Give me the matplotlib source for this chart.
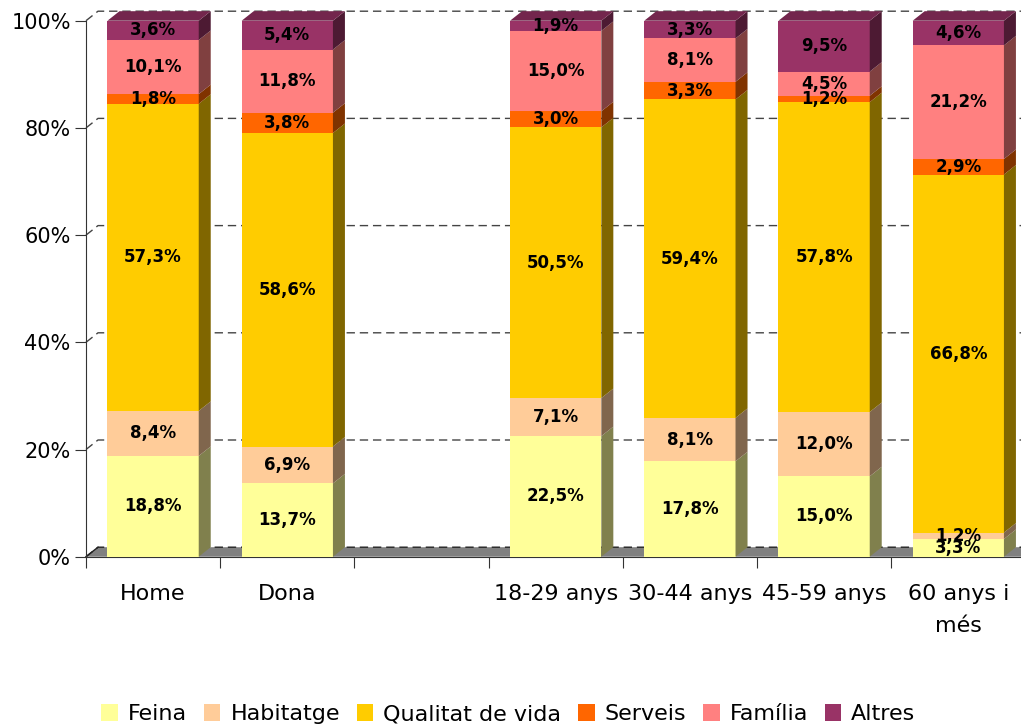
import numpy as np
import matplotlib.pyplot as plt
from matplotlib.patches import Polygon, Rectangle, Patch
from matplotlib.colors import to_rgb

plt.rcParams['font.family'] = ['DejaVu Sans']

categories = ["Home", "Dona", "", "18-29 anys", "30-44 anys", "45-59 anys", "60 anys i\nmés"]
series = ["Feina", "Habitatge", "Qualitat de vida", "Serveis", "Família", "Altres"]

feina = [18.8, 13.7, np.nan, 22.5, 17.8, 15.0, 3.3]
habitatge = [8.4, 6.9, np.nan, 7.1, 8.1, 12.0, 1.2]
qualitat = [57.3, 58.6, np.nan, 50.5, 59.4, 57.8, 66.8]
serveis = [1.8, 3.8, np.nan, 3.0, 3.3, 1.2, 2.9]
familia = [10.1, 11.8, np.nan, 15.0, 8.1, 4.5, 21.2]
altres = [3.6, 5.4, np.nan, 1.9, 3.3, 9.5, 4.6]

colors = ["#FFFF99", "#FFCC99", "#FFCC00", "#FF6600", "#FF8080", "#993366"]
yticks = [0, 20, 40, 60, 80, 100]

values = np.array([feina, habitatge, qualitat, serveis, familia, altres])

fig = plt.figure(figsize=(10.21, 7.28), dpi=100)
ax = fig.add_axes([86 / 1021, (728 - 556.7) / 728, 939.4 / 1021, 536 / 728])
ax.set_xlim(-0.5, 6.5)
ax.set_ylim(0, 100)

# 3d depth in data units (about 12 px right, 9.5 px up)
dx = 12 / 134.2
dy = 9.5 / 5.36
width = 0.68
x0, x1 = -0.5, 6.5


def shade(c, f):
    r, g, b = to_rgb(c)
    return (r * f, g * f, b * f)


# floor
ax.add_patch(Polygon([(x0, 0), (x1, 0), (x1 + dx, dy), (x0 + dx, dy)],
                     closed=True, facecolor="#808080", edgecolor="none",
                     zorder=1, clip_on=False))
ax.plot([x0, x0 + dx], [0, dy], color="#222222", lw=1, zorder=1.6, clip_on=False)

# gridlines on side wall and back wall
for v in yticks:
    ax.plot([x0, x0 + dx, x1 + dx], [v, v + dy, v + dy],
            color="#222222" if v == 0 else "#444444",
            lw=1, ls=(0, (6, 3.5)), zorder=1.5, clip_on=False)

for i, cat in enumerate(categories):
    col = values[:, i]
    if np.all(np.isnan(col)):
        continue
    heights = col / np.nansum(col) * 100
    left, right = i - width / 2, i + width / 2
    bottom = 0
    for j, h in enumerate(heights):
        top = bottom + h
        ax.add_patch(Rectangle((left, bottom), width, h, facecolor=colors[j],
                               edgecolor="none", zorder=3, clip_on=False))
        ax.add_patch(Polygon([(right, bottom), (right, top), (right + dx, top + dy),
                              (right + dx, bottom + dy)], closed=True,
                             facecolor=shade(colors[j], 0.5), edgecolor="none",
                             zorder=3, clip_on=False))
        label = f"{col[j]:.1f}%".replace(".", ",")
        ax.text(i, bottom + h / 2, label, ha="center", va="center",
                fontsize=12, fontweight="bold", zorder=5)
        bottom = top
    ax.add_patch(Polygon([(left, bottom), (right, bottom), (right + dx, bottom + dy),
                          (left + dx, bottom + dy)], closed=True,
                         facecolor=shade(colors[-1], 0.75), edgecolor="none",
                         zorder=3, clip_on=False))

for s in ["top", "right"]:
    ax.spines[s].set_visible(False)
ax.spines["left"].set_color("#333333")
ax.spines["bottom"].set_color("#333333")

ax.set_yticks(yticks)
ax.set_yticklabels([f"{v}%" for v in yticks], fontsize=15)
ax.tick_params(axis="y", length=8, color="#333333", pad=3)

bounds = np.arange(-0.5, 7.0, 1.0)
ax.set_xticks(bounds)
ax.set_xticklabels([""] * len(bounds))
ax.tick_params(axis="x", which="major", length=8, color="#333333")
ax.set_xticks(range(len(categories)), minor=True)
ax.set_xticklabels(categories, minor=True, fontsize=16, linespacing=1.75)
ax.tick_params(axis="x", which="minor", length=0, pad=20)

handles = [Patch(facecolor=c, edgecolor="none") for c in colors]
fig.legend(handles, series, loc="center", bbox_to_anchor=(0.498, 0.019), ncol=6,
           frameon=False, fontsize=16, handlelength=0.75, handleheight=0.8,
           handletextpad=0.45, columnspacing=0.75)

fig.savefig("out.png", dpi=100)
